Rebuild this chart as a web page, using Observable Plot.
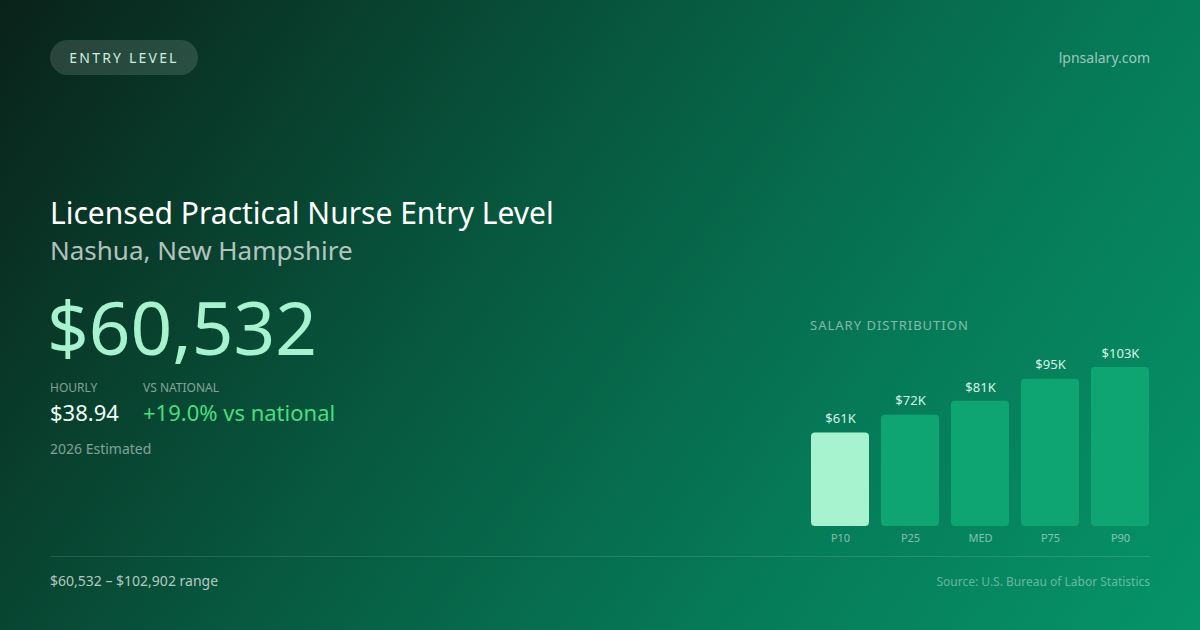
<!DOCTYPE html>
<html>
<head>
<meta charset="utf-8">
<script src="https://cdn.jsdelivr.net/npm/d3@7"></script>
<script src="https://cdn.jsdelivr.net/npm/@observablehq/plot@0.6"></script>
<style>
  html, body { margin: 0; padding: 0; }
  body {
    width: 1200px; height: 630px; overflow: hidden; position: relative;
    font-family: "Noto Sans", "Open Sans", sans-serif;
    background: linear-gradient(125deg, #0a2219 0%, #075a40 42%, #067a57 70%, #069468 100%);
    color: #fff;
  }
  .abs { position: absolute; white-space: nowrap; }
  .badge {
    left: 50px; top: 40px; height: 35px; width: 148px; border-radius: 18px;
    background: rgba(255,255,255,0.13); color: #cdeede;
    font-size: 14px; letter-spacing: 2.2px; line-height: 35px; text-align: center;
  }
  .site { right: 50px; top: 48px; font-size: 14px; color: rgba(255,255,255,0.6); }
  .title { left: 50px; top: 192px; font-size: 30px; color: #fff; }
  .sub { left: 50px; top: 232px; font-size: 26px; color: rgba(255,255,255,0.7); }
  .big { left: 47px; top: 283px; font-size: 73px; color: #a7f3d0; line-height: 1.2; }
  .lab { font-size: 12px; color: rgba(255,255,255,0.5); top: 379px; }
  .val { font-size: 22px; top: 397px; }
  .est { left: 50px; top: 439px; font-size: 14px; color: rgba(255,255,255,0.5); }
  .dist { left: 810px; top: 316px; font-size: 13px; letter-spacing: 1px; color: rgba(255,255,255,0.5); }
  .rule { left: 50px; top: 556px; width: 1100px; height: 1px; background: rgba(255,255,255,0.12); }
  .range { left: 50px; top: 571px; font-size: 14px; color: rgba(255,255,255,0.7); }
  .src { right: 50px; top: 573px; font-size: 12px; color: rgba(255,255,255,0.4); }
  #chart { position: absolute; left: 810px; top: 340px; }
</style>
</head>
<body>
<div class="abs badge">ENTRY LEVEL</div>
<div class="abs site">lpnsalary.com</div>
<div class="abs title">Licensed Practical Nurse Entry Level</div>
<div class="abs sub">Nashua, New Hampshire</div>
<div class="abs big">$60,532</div>
<div class="abs lab" style="left:50px">HOURLY</div>
<div class="abs lab" style="left:143px">VS NATIONAL</div>
<div class="abs val" style="left:50px;color:#f0fdf4">$38.94</div>
<div class="abs val" style="left:143px;color:#4ade80">+19.0% vs national</div>
<div class="abs est">2026 Estimated</div>
<div class="abs dist">SALARY DISTRIBUTION</div>
<div id="chart"></div>
<div class="abs rule"></div>
<div class="abs range">$60,532 – $102,902 range</div>
<div class="abs src">Source: U.S. Bureau of Labor Statistics</div>
<script>
const percentiles = ["P10", "P25", "MED", "P75", "P90"];
const salaries = [60532, 72000, 81000, 95300, 102902];
const valueLabels = ["$61K", "$72K", "$81K", "$95K", "$103K"];

const data = percentiles.map((p, i) => ({p, v: salaries[i], label: valueLabels[i], first: i === 0}));

const chart = Plot.plot({
  width: 340,
  height: 210,
  marginLeft: 0,
  marginRight: 0,
  marginTop: 27,
  marginBottom: 24,
  style: {background: "transparent", fontFamily: "Noto Sans, sans-serif"},
  x: {domain: percentiles, paddingInner: 0.17, paddingOuter: 0, align: 0.5, label: null},
  y: {domain: [0, d3.max(salaries)], axis: null},
  marks: [
    Plot.barY(data, {x: "p", y: "v", rx: 4, fill: d => d.first ? "#a7f3d0" : "#0fa573"}),
    Plot.text(data, {x: "p", y: "v", text: "label", dy: -14, fill: "#d6f5e6", fontSize: 13}),
    Plot.axisX({tickSize: 0, tickPadding: 8, fontSize: 11, color: "rgba(255,255,255,0.5)", label: null})
  ]
});
document.getElementById("chart").appendChild(chart);
</script>
</body>
</html>
